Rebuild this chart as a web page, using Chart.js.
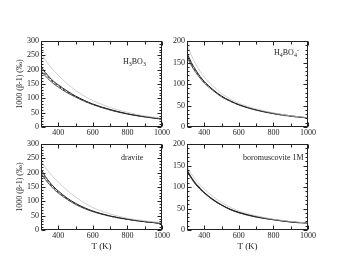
<!DOCTYPE html>
<html>
<head>
<meta charset="utf-8">
<script src="https://cdn.jsdelivr.net/npm/chart.js@4.4.1/dist/chart.umd.min.js"></script>
<style>
  html, body { margin: 0; padding: 0; background: #fff; }
  #wrap { position: relative; width: 349px; height: 270px; }
  #wrap canvas { position: absolute; left: 0; top: 0; }
</style>
</head>
<body>
<div id="wrap">
  <canvas id="c0" width="349" height="270"></canvas>
  <canvas id="c1" width="349" height="270"></canvas>
  <canvas id="c2" width="349" height="270"></canvas>
  <canvas id="c3" width="349" height="270"></canvas>
</div>
<script>
// temperatures (K)
const temps = [300, 325, 350, 375, 400, 450, 500, 550, 600, 700, 800, 900, 1000];
const xTickLabels = [400, 600, 800, 1000];

// H3BO3
const h3bo3A = [210, 190, 173, 158, 147, 126, 108, 93, 80, 61, 46, 36, 28];
const h3bo3B = [203, 184, 168, 154, 143, 123, 106, 91, 79, 60, 46, 36, 28];
const h3bo3C = [196, 178, 163, 150, 139, 120, 104, 90, 78, 59, 45, 35, 27];
const h3bo3Gray = [258, 234, 214, 196, 180, 152, 128, 108, 92, 68, 51, 39, 30];

// H4BO4-
const h4bo4A = [172, 150, 133, 118, 106, 87, 72, 61, 52, 40, 32, 26, 21];
const h4bo4B = [167, 146, 130, 116, 104, 86, 71, 60, 52, 40, 31, 25, 21];
const h4bo4C = [163, 143, 127, 114, 102, 85, 70, 60, 51, 39, 31, 25, 21];
const h4bo4Gray = [192, 167, 147, 130, 116, 95, 78, 65, 55, 42, 33, 26, 22];

// dravite
const draviteA = [212, 187, 167, 150, 136, 112, 93, 78, 66, 49, 38, 29, 23];
const draviteB = [204, 181, 162, 146, 132, 109, 91, 77, 65, 48, 37, 29, 23];
const draviteC = [198, 176, 158, 142, 129, 107, 89, 75, 64, 48, 37, 29, 23];
const draviteGray = [240, 218, 199, 182, 167, 139, 115, 95, 78, 56, 41, 32, 25];

// boromuscovite 1M
const boroA = [140, 122, 108, 97, 87, 71, 58, 48, 41, 31, 24, 19, 16];
const boroB = [137, 120, 106, 95, 86, 70, 58, 48, 40, 30, 24, 19, 16];
const boroGray = [148, 131, 117, 105, 95, 78, 64, 53, 44, 33, 25, 20, 16];

const yTicks300 = [0, 50, 100, 150, 200, 250, 300];
const yTicks200 = [0, 50, 100, 150, 200];

// label pieces: [text, 0 normal / 1 sub / 2 sup]
const panelLabels = [
  [['H', 0], ['3', 1], ['BO', 0], ['3', 1]],
  [['H', 0], ['4', 1], ['BO', 0], ['4', 1], ['-', 2]],
  [['dravite', 0]],
  [['boromuscovite 1M', 0]]
];

const yTitle = '1000 (β-1) (‰)';
const xTitle = 'T (K)';

const FONT = '"Liberation Serif", "DejaVu Serif", serif';

function drawRich(ctx, x, y, parts) {
  let cx = x;
  ctx.textBaseline = 'middle';
  ctx.textAlign = 'left';
  parts.forEach(([t, k]) => {
    ctx.font = (k ? 6 : 8) + 'px ' + FONT;
    const dy = k === 1 ? 2.5 : (k === 2 ? -3 : 0);
    ctx.fillText(t, cx, y + dy);
    cx += ctx.measureText(t).width;
  });
}

const framePlugin = {
  id: 'frame',
  afterDatasetsDraw(chart, args, opts) {
    const { ctx, chartArea: a, scales: { x, y } } = chart;
    ctx.save();
    ctx.strokeStyle = '#222';
    ctx.lineWidth = 1;
    const L = Math.round(a.left) + 0.5, R = Math.round(a.right) - 0.5;
    const T = Math.round(a.top) + 0.5, B = Math.round(a.bottom) - 0.5;
    ctx.strokeRect(L, T, R - L, B - T);
    ctx.beginPath();
    for (let v = 300; v <= 1000; v += 100) {
      const px = Math.round(x.getPixelForValue(v)) + 0.5;
      const len = v % 200 === 0 ? 4 : 3;
      ctx.moveTo(px, B); ctx.lineTo(px, B - len);
      ctx.moveTo(px, T); ctx.lineTo(px, T + len);
    }
    for (let v = 0; v <= y.max; v += 10) {
      const py = Math.round(y.getPixelForValue(v)) + 0.5;
      const len = v % 50 === 0 ? 4 : 2;
      ctx.moveTo(L, py); ctx.lineTo(L + len, py);
      ctx.moveTo(R, py); ctx.lineTo(R - len, py);
    }
    ctx.stroke();
    ctx.fillStyle = '#222';
    drawRich(ctx, a.left + opts.lx, a.top + opts.ly, opts.label);
    ctx.restore();
  }
};

function lineSet(data, color, width, dash) {
  return {
    data: temps.map((t, i) => ({ x: t, y: data[i] })),
    borderColor: color,
    borderWidth: width,
    borderDash: dash || [],
    pointRadius: 0,
    cubicInterpolationMode: 'monotone',
    fill: false
  };
}

function makePanel(id, area, series, yMax, yTicks, label, lx, ly, showYTitle, showXTitle) {
  const yW = showYTitle ? 26 : 16;
  const xH = showXTitle ? 22 : 12;
  new Chart(document.getElementById(id), {
    type: 'line',
    data: { datasets: series },
    options: {
      responsive: false,
      animation: false,
      events: [],
      layout: {
        padding: { left: area.l - yW, top: area.t, right: 349 - area.r, bottom: 270 - area.b - xH }
      },
      plugins: {
        legend: { display: false },
        tooltip: { enabled: false },
        frame: { label: label, lx: lx, ly: ly }
      },
      scales: {
        x: {
          type: 'linear', min: 300, max: 1000,
          grid: { display: false, drawTicks: false },
          border: { display: false },
          afterBuildTicks: s => { s.ticks = xTickLabels.map(v => ({ value: v })); },
          afterFit: s => { s.height = xH; },
          ticks: { padding: 1, color: '#222', font: { family: FONT, size: 8 }, maxRotation: 0, callback: v => String(v) },
          title: { display: showXTitle, text: xTitle, color: '#222', padding: 0, font: { family: FONT, size: 9 } }
        },
        y: {
          type: 'linear', min: 0, max: yMax,
          grid: { display: false, drawTicks: false },
          border: { display: false },
          afterBuildTicks: s => { s.ticks = yTicks.map(v => ({ value: v })); },
          afterFit: s => { s.width = yW; },
          ticks: { padding: 2, color: '#222', font: { family: FONT, size: 8 }, callback: v => String(v) },
          title: { display: showYTitle, text: yTitle, color: '#222', padding: 0, font: { family: FONT, size: 8 } }
        }
      }
    },
    plugins: [framePlugin]
  });
}

const GRAY = '#c4c4c4';
const DARK = '#222';

makePanel('c0', { l: 41, t: 41, r: 162, b: 127 }, [
  lineSet(h3bo3Gray, GRAY, 0.8),
  lineSet(h3bo3A, DARK, 1),
  lineSet(h3bo3B, '#444', 1, [3, 2]),
  lineSet(h3bo3C, '#555', 1)
], 300, yTicks300, panelLabels[0], 82, 21, true, false);

makePanel('c1', { l: 187, t: 41, r: 308, b: 127 }, [
  lineSet(h4bo4Gray, GRAY, 0.8),
  lineSet(h4bo4A, DARK, 1),
  lineSet(h4bo4B, '#444', 1, [3, 2]),
  lineSet(h4bo4C, '#555', 1)
], 200, yTicks200, panelLabels[1], 87, 12, false, false);

makePanel('c2', { l: 41, t: 144, r: 162, b: 230 }, [
  lineSet(draviteGray, GRAY, 0.8),
  lineSet(draviteA, DARK, 1),
  lineSet(draviteB, '#444', 1, [3, 2]),
  lineSet(draviteC, '#555', 1)
], 300, yTicks300, panelLabels[2], 80, 14, true, true);

makePanel('c3', { l: 187, t: 144, r: 308, b: 230 }, [
  lineSet(boroGray, GRAY, 0.8),
  lineSet(boroA, DARK, 1.2),
  lineSet(boroB, '#444', 1)
], 200, yTicks200, panelLabels[3], 56, 14, false, true);
</script>
</body>
</html>
